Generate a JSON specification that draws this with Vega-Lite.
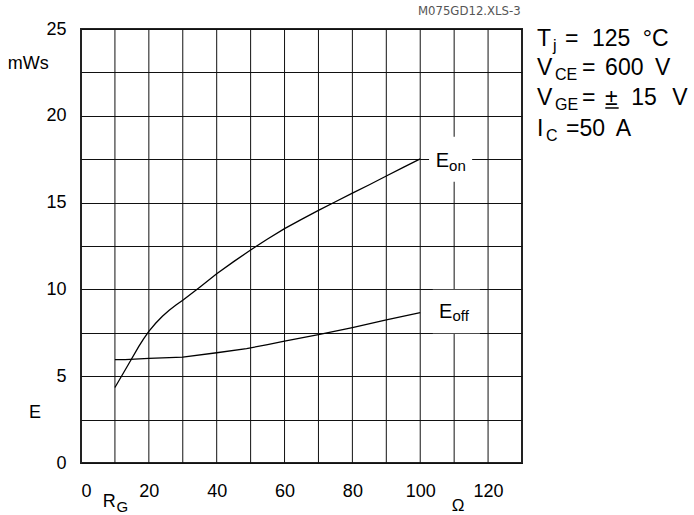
{
  "$schema": "https://vega.github.io/schema/vega-lite/v6.json",
  "autosize": {"type": "none"},
  "padding": {"left": 81, "top": 29, "right": 172, "bottom": 52},
  "width": 441,
  "height": 434,
  "background": "white",
  "config": {
    "view": {"stroke": "#222", "strokeWidth": 2},
    "font": "Liberation Sans",
    "axis": {
      "gridColor": "#111",
      "gridWidth": 1,
      "gridOpacity": 1,
      "ticks": false,
      "domain": false,
      "labelFont": "Liberation Sans",
      "labelFontSize": 18,
      "labelColor": "#000",
      "labelOverlap": false,
      "title": null
    },
    "axisX": {"labelPadding": 19, "grid": false},
    "axisY": {"labelPadding": 15, "grid": true}
  },
  "datasets": {
    "curves": [
      {"series": "Eon", "rg": 10, "e": 4.35},
      {"series": "Eon", "rg": 14, "e": 5.69},
      {"series": "Eon", "rg": 17, "e": 6.7},
      {"series": "Eon", "rg": 18.4, "e": 7.13},
      {"series": "Eon", "rg": 20, "e": 7.58},
      {"series": "Eon", "rg": 22, "e": 8.05},
      {"series": "Eon", "rg": 24, "e": 8.45},
      {"series": "Eon", "rg": 26, "e": 8.8},
      {"series": "Eon", "rg": 28, "e": 9.1},
      {"series": "Eon", "rg": 30, "e": 9.38},
      {"series": "Eon", "rg": 35, "e": 10.13},
      {"series": "Eon", "rg": 40, "e": 10.9},
      {"series": "Eon", "rg": 45, "e": 11.6},
      {"series": "Eon", "rg": 50, "e": 12.27},
      {"series": "Eon", "rg": 55, "e": 12.9},
      {"series": "Eon", "rg": 60, "e": 13.5},
      {"series": "Eon", "rg": 65, "e": 14.03},
      {"series": "Eon", "rg": 70, "e": 14.55},
      {"series": "Eon", "rg": 75, "e": 15.05},
      {"series": "Eon", "rg": 80, "e": 15.55},
      {"series": "Eon", "rg": 85, "e": 16.03},
      {"series": "Eon", "rg": 90, "e": 16.53},
      {"series": "Eon", "rg": 95, "e": 17.03},
      {"series": "Eon", "rg": 100, "e": 17.52},
      {"series": "Eoff", "rg": 10, "e": 5.95},
      {"series": "Eoff", "rg": 13, "e": 5.95},
      {"series": "Eoff", "rg": 20, "e": 6.03},
      {"series": "Eoff", "rg": 30, "e": 6.1},
      {"series": "Eoff", "rg": 40, "e": 6.35},
      {"series": "Eoff", "rg": 48.8, "e": 6.59},
      {"series": "Eoff", "rg": 55, "e": 6.82},
      {"series": "Eoff", "rg": 60, "e": 7.02},
      {"series": "Eoff", "rg": 70, "e": 7.39},
      {"series": "Eoff", "rg": 80, "e": 7.8},
      {"series": "Eoff", "rg": 90, "e": 8.25},
      {"series": "Eoff", "rg": 100, "e": 8.66}
    ],
    "gridX": [
      {"rg": 10}, {"rg": 20}, {"rg": 30}, {"rg": 40}, {"rg": 50}, {"rg": 60},
      {"rg": 70}, {"rg": 80}, {"rg": 90}, {"rg": 100}, {"rg": 110}, {"rg": 120}
    ],
    "labelBoxes": [
      {"series": "Eon", "x1": 102.6, "x2": 115.3, "y1": 16.2, "y2": 18.8},
      {"series": "Eoff", "x1": 103.7, "x2": 117.6, "y1": 7.48, "y2": 9.98}
    ],
    "curveNames": [
      {"text": "E", "x": 104.6, "y": 17.04},
      {"text": "E", "x": 105.5, "y": 8.37}
    ],
    "curveSubs": [
      {"text": "on", "x": 108.5, "y": 16.8},
      {"text": "off", "x": 109.5, "y": 8.17}
    ],
    "mainText": [
      {"text": "T", "x": 134.42, "y": 24.02},
      {"text": "=", "x": 142.68, "y": 24.02},
      {"text": "125", "x": 150.6, "y": 24.02},
      {"text": "°C", "x": 165.6, "y": 24.02},
      {"text": "V", "x": 134.42, "y": 22.35},
      {"text": "=", "x": 147.69, "y": 22.35},
      {"text": "600", "x": 154.5, "y": 22.35},
      {"text": "V", "x": 169.2, "y": 22.35},
      {"text": "V", "x": 134.42, "y": 20.62},
      {"text": "=", "x": 147.69, "y": 20.62},
      {"text": "±", "x": 154.5, "y": 20.62},
      {"text": "15", "x": 162.2, "y": 20.62},
      {"text": "V", "x": 174.3, "y": 20.62},
      {"text": "I", "x": 134.42, "y": 18.84},
      {"text": "=50", "x": 142.97, "y": 18.84},
      {"text": "A", "x": 157.6, "y": 18.84}
    ],
    "subText": [
      {"text": "j", "x": 139.14, "y": 23.73},
      {"text": "CE", "x": 139.73, "y": 22.06},
      {"text": "GE", "x": 139.73, "y": 20.33},
      {"text": "C", "x": 137.08, "y": 18.55}
    ],
    "underline": [
      {"x1": 154.55, "x2": 158.5, "y": 20.45}
    ],
    "axisText": [
      {"text": "mWs", "x": -21.6, "y": 22.7},
      {"text": "E", "x": -15.3, "y": 2.59},
      {"text": "R", "x": 6.4, "y": -2.53}
    ],
    "axisSub": [
      {"text": "G", "x": 10.5, "y": -2.8}
    ],
    "unitText": [
      {"text": "Ω", "x": 109.3, "y": -2.75}
    ],
    "sheetTag": [
      {"text": "M075GD12.XLS-3", "x": 129.6, "y": 25.8}
    ]
  },
  "layer": [
    {
      "data": {"name": "gridX"},
      "mark": {"type": "rule", "color": "#111", "strokeWidth": 1},
      "encoding": {
        "x": {"field": "rg", "type": "quantitative",
              "scale": {"domain": [0, 130], "nice": false, "zero": false},
              "axis": {"values": [0, 20, 40, 60, 80, 100, 120]}}
      }
    },
    {
      "data": {"name": "labelBoxes"},
      "mark": {"type": "rect", "fill": "white", "stroke": null},
      "encoding": {
        "x": {"field": "x1", "type": "quantitative"},
        "x2": {"field": "x2"},
        "y": {"field": "y1", "type": "quantitative",
              "scale": {"domain": [0, 25], "nice": false, "zero": false},
              "axis": {"values": [0, 2.5, 5, 7.5, 10, 12.5, 15, 17.5, 20, 22.5, 25],
                       "labelExpr": "datum.value % 5 == 0 ? datum.label : ''"}},
        "y2": {"field": "y2"}
      }
    },
    {
      "data": {"name": "curves"},
      "mark": {"type": "line", "color": "#000", "strokeWidth": 1.3},
      "encoding": {
        "x": {"field": "rg", "type": "quantitative"},
        "y": {"field": "e", "type": "quantitative"},
        "detail": {"field": "series"}
      }
    },
    {
      "data": {"name": "curveNames"},
      "mark": {"type": "text", "align": "left", "baseline": "alphabetic", "fontSize": 20, "color": "#000"},
      "encoding": {
        "x": {"field": "x", "type": "quantitative"},
        "y": {"field": "y", "type": "quantitative"},
        "text": {"field": "text"}
      }
    },
    {
      "data": {"name": "curveSubs"},
      "mark": {"type": "text", "align": "left", "baseline": "alphabetic", "fontSize": 15, "color": "#000"},
      "encoding": {
        "x": {"field": "x", "type": "quantitative"},
        "y": {"field": "y", "type": "quantitative"},
        "text": {"field": "text"}
      }
    },
    {
      "data": {"name": "mainText"},
      "mark": {"type": "text", "align": "left", "baseline": "alphabetic", "fontSize": 23, "color": "#000"},
      "encoding": {
        "x": {"field": "x", "type": "quantitative"},
        "y": {"field": "y", "type": "quantitative"},
        "text": {"field": "text"}
      }
    },
    {
      "data": {"name": "subText"},
      "mark": {"type": "text", "align": "left", "baseline": "alphabetic", "fontSize": 16, "color": "#000"},
      "encoding": {
        "x": {"field": "x", "type": "quantitative"},
        "y": {"field": "y", "type": "quantitative"},
        "text": {"field": "text"}
      }
    },
    {
      "data": {"name": "underline"},
      "mark": {"type": "rule", "color": "#000", "strokeWidth": 1.5},
      "encoding": {
        "x": {"field": "x1", "type": "quantitative"},
        "x2": {"field": "x2"},
        "y": {"field": "y", "type": "quantitative"}
      }
    },
    {
      "data": {"name": "axisText"},
      "mark": {"type": "text", "align": "left", "baseline": "alphabetic", "fontSize": 18, "color": "#000"},
      "encoding": {
        "x": {"field": "x", "type": "quantitative"},
        "y": {"field": "y", "type": "quantitative"},
        "text": {"field": "text"}
      }
    },
    {
      "data": {"name": "axisSub"},
      "mark": {"type": "text", "align": "left", "baseline": "alphabetic", "fontSize": 15, "color": "#000"},
      "encoding": {
        "x": {"field": "x", "type": "quantitative"},
        "y": {"field": "y", "type": "quantitative"},
        "text": {"field": "text"}
      }
    },
    {
      "data": {"name": "unitText"},
      "mark": {"type": "text", "align": "left", "baseline": "alphabetic", "fontSize": 17, "color": "#000"},
      "encoding": {
        "x": {"field": "x", "type": "quantitative"},
        "y": {"field": "y", "type": "quantitative"},
        "text": {"field": "text"}
      }
    },
    {
      "data": {"name": "sheetTag"},
      "mark": {"type": "text", "align": "right", "baseline": "alphabetic", "fontSize": 13, "font": "Liberation Sans Narrow, DejaVu Sans Condensed, Liberation Sans", "color": "#555"},
      "encoding": {
        "x": {"field": "x", "type": "quantitative"},
        "y": {"field": "y", "type": "quantitative"},
        "text": {"field": "text"}
      }
    }
  ]
}
